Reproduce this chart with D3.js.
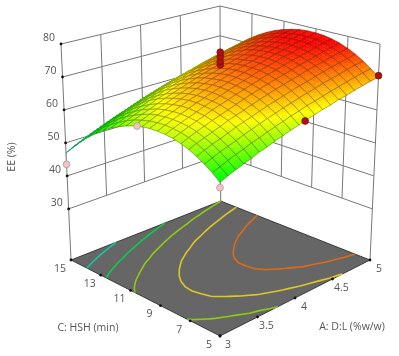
<!DOCTYPE html>
<html>
<head>
<meta charset="utf-8">
<script src="https://cdnjs.cloudflare.com/ajax/libs/d3/7.8.5/d3.min.js"></script>
<style>
  html, body { margin: 0; padding: 0; background: #fff; }
  svg { display: block; filter: blur(0.35px); }
  text { font-family: "Open Sans", "Noto Sans", sans-serif; font-size: 10.5px; fill: #555; }
</style>
</head>
<body>
<div id="chart"></div>
<script>
let aTicks = [3, 3.5, 4, 4.5, 5];
let cTicks = [5, 7, 9, 11, 13, 15];
let zTicks = [30, 40, 50, 60, 70, 80];
let contourLevels = [52.6, 58, 63, 68.2, 73.6];
let contourColors = ['#14c8a0', '#10c850', '#8ccc10', '#dcc820', '#e06a14'];

let colorStops = [38, 48, 57.5, 66.5, 77.5];
let colorNames = ['#0000ff', '#00ffff', '#00ff00', '#ffff00', '#ff0000'];

// one row per C value (5 to 15), one column per A value (3 to 5)
let surfaceEE = [
  [57.0,57.9,58.7,59.5,60.2,61.1,61.7,62.5,63.2,63.9,64.5,65.2,65.8,66.4,66.9,67.6,68.0,68.6,69.1,69.6,70.0],
  [58.8,59.6,60.5,61.3,62.0,62.9,63.5,64.3,65.0,65.7,66.4,67.0,67.7,68.2,68.8,69.4,69.9,70.5,71.0,71.5,71.9],
  [60.3,61.2,62.1,62.8,63.6,64.4,65.1,65.9,66.6,67.3,68.0,68.6,69.3,69.9,70.4,71.1,71.6,72.1,72.7,73.2,73.6],
  [61.6,62.5,63.4,64.1,64.9,65.8,66.5,67.2,68.0,68.7,69.3,70.0,70.7,71.3,71.8,72.5,73.0,73.6,74.1,74.6,75.1],
  [62.7,63.6,64.4,65.2,66.0,66.9,67.6,68.3,69.1,69.8,70.5,71.2,71.8,72.4,73.0,73.7,74.2,74.7,75.3,75.8,76.3],
  [63.5,64.4,65.3,66.1,66.9,67.7,68.4,69.2,70.0,70.7,71.4,72.1,72.7,73.3,73.9,74.6,75.1,75.7,76.3,76.8,77.3],
  [64.1,65.0,65.9,66.7,67.5,68.4,69.1,69.8,70.6,71.3,72.0,72.7,73.4,74.0,74.6,75.3,75.8,76.4,77.0,77.5,78.0],
  [64.4,65.3,66.2,67.0,67.8,68.7,69.4,70.2,71.0,71.7,72.4,73.1,73.9,74.5,75.1,75.8,76.3,76.9,77.5,78.0,78.5],
  [64.5,65.4,66.3,67.2,68.0,68.9,69.6,70.4,71.2,71.9,72.6,73.3,74.0,74.6,75.3,76.0,76.5,77.1,77.7,78.2,78.7],
  [64.4,65.3,66.2,67.0,67.9,68.8,69.5,70.3,71.1,71.8,72.6,73.3,74.0,74.6,75.2,75.9,76.5,77.1,77.7,78.2,78.7],
  [64.0,64.9,65.9,66.7,67.5,68.4,69.2,70.0,70.8,71.5,72.3,73.0,73.7,74.3,75.0,75.7,76.2,76.8,77.5,78.0,78.5],
  [63.4,64.3,65.3,66.1,66.9,67.8,68.6,69.4,70.2,71.0,71.7,72.4,73.2,73.8,74.4,75.2,75.7,76.3,77.0,77.5,78.0],
  [62.5,63.5,64.4,65.2,66.1,67.0,67.8,68.6,69.4,70.2,70.9,71.7,72.4,73.0,73.7,74.4,75.0,75.6,76.2,76.8,77.3],
  [61.4,62.4,63.3,64.2,65.0,66.0,66.7,67.6,68.4,69.1,69.9,70.6,71.4,72.0,72.7,73.4,74.0,74.6,75.3,75.8,76.4],
  [60.1,61.0,62.0,62.8,63.7,64.7,65.4,66.3,67.1,67.9,68.6,69.4,70.1,70.8,71.5,72.2,72.8,73.4,74.1,74.6,75.2],
  [58.5,59.5,60.4,61.3,62.2,63.1,63.9,64.7,65.6,66.4,67.1,67.9,68.7,69.3,70.0,70.7,71.3,72.0,72.6,73.2,73.8],
  [56.7,57.7,58.6,59.5,60.4,61.3,62.1,63.0,63.8,64.6,65.4,66.2,66.9,67.6,68.3,69.0,69.6,70.3,70.9,71.5,72.1],
  [54.6,55.6,56.6,57.5,58.3,59.3,60.1,61.0,61.8,62.6,63.4,64.2,65.0,65.6,66.3,67.1,67.7,68.3,69.0,69.6,70.2],
  [52.3,53.3,54.3,55.2,56.1,57.0,57.8,58.7,59.6,60.4,61.2,62.0,62.7,63.4,64.1,64.9,65.5,66.2,66.9,67.4,68.0],
  [49.8,50.8,51.8,52.7,53.6,54.5,55.3,56.2,57.1,57.9,58.7,59.5,60.3,61.0,61.7,62.5,63.1,63.8,64.4,65.0,65.6],
  [47.0,48.0,49.0,49.9,50.8,51.8,52.6,53.5,54.4,55.2,56.0,56.8,57.6,58.3,59.0,59.8,60.4,61.1,61.8,62.4,63.0]
];

// design points: A, C, EE
let pointA = [3, 3, 3, 4.08, 5, 4, 4, 4, 4];
let pointC = [15, 10.3, 5, 5, 5, 10, 10, 10, 10];
let pointEE = [43.5, 63.7, 55.5, 65, 70.4, 75, 76, 77.5, 78.8];
let pointAbove = [false, false, false, true, true, true, true, true, true];

let width = 399, height = 356;
let zFloor = 14.5, zTop = 80;

// box corners on screen: front, right, back, left
let floorCorners = [[220, 336], [370, 260], [220.7, 201], [71, 260]];
let topCorners = [[220, 99], [380, 44], [220, 6], [61, 44]];

let aScale = d3.scaleLinear().domain([3, 5]).range([0, 1]);
let cScale = d3.scaleLinear().domain([5, 15]).range([0, 1]);
let zScale = d3.scaleLinear().domain([zFloor, zTop]).range([0, 1]);
let colorScale = d3.scaleLinear().domain(colorStops).range(colorNames).clamp(true);

function quad(corners, u, v) {
  return [0, 1].map(k => corners[0][k] * (1 - u) * (1 - v) + corners[1][k] * u * (1 - v)
    + corners[2][k] * u * v + corners[3][k] * (1 - u) * v);
}

function project(A, C, Z) {
  let u = aScale(A), v = cScale(C), w = zScale(Z);
  let lo = quad(floorCorners, u, v), hi = quad(topCorners, u, v);
  return [lo[0] + (hi[0] - lo[0]) * w, lo[1] + (hi[1] - lo[1]) * w];
}

let $svg = d3.select('#chart').append('svg')
  .attr('width', width)
  .attr('height', height);

let line = d3.line();
let gridColor = '#777';

function drawLine($g, a, b, color, w) {
  $g.append('path')
    .attr('d', line([a, b]))
    .attr('fill', 'none')
    .attr('stroke', color)
    .attr('stroke-width', w);
}

// walls
let $walls = $svg.append('g');
zTicks.forEach(z => {
  drawLine($walls, project(3, 15, z), project(5, 15, z), gridColor, 1);
  drawLine($walls, project(5, 15, z), project(5, 5, z), gridColor, 1);
});
aTicks.slice(1, -1).forEach(a => drawLine($walls, project(a, 15, 30), project(a, 15, 80), gridColor, 1));
cTicks.slice(1, -1).forEach(c => drawLine($walls, project(5, c, 30), project(5, c, 80), gridColor, 1));
drawLine($walls, project(3, 15, zFloor), project(3, 15, 80), gridColor, 1);
drawLine($walls, project(5, 15, zFloor), project(5, 15, 80), gridColor, 1);
drawLine($walls, project(5, 5, zFloor), project(5, 5, 80), gridColor, 1);

// floor
let floorPts = [[3, 5], [5, 5], [5, 15], [3, 15]].map(d => project(d[0], d[1], zFloor));
$svg.append('path')
  .attr('d', line(floorPts) + 'Z')
  .attr('fill', '#666')
  .attr('stroke', '#222')
  .attr('stroke-width', 0.8);

// contours on the floor
let nRows = surfaceEE.length, nCols = surfaceEE[0].length;
let colA = d3.scaleLinear().domain([0.5, nCols - 0.5]).range([3, 5]);
let rowC = d3.scaleLinear().domain([0.5, nRows - 0.5]).range([5, 15]);
let contourData = d3.contours().size([nCols, nRows]).thresholds(contourLevels)(surfaceEE.flat());

function insideGrid(pt) {
  return pt[0] >= 0.5 - 1e-6 && pt[0] <= nCols - 0.5 + 1e-6 && pt[1] >= 0.5 - 1e-6 && pt[1] <= nRows - 0.5 + 1e-6;
}

let $contours = $svg.append('g').attr('fill', 'none').attr('stroke-width', 1.6);
contourData.forEach((contour, k) => {
  contour.coordinates.forEach(poly => {
    poly.forEach(ring => {
      let pieces = [];
      let current = [];
      ring.forEach(pt => {
        if (insideGrid(pt)) {
          current.push(project(colA(pt[0]), rowC(pt[1]), zFloor));
        } else {
          if (current.length > 1) pieces.push(current);
          current = [];
        }
      });
      if (current.length > 1) pieces.push(current);
      // tiny corner nicks are not drawn
      pieces.filter(p => p.length > 4).forEach(p => {
        $contours.append('path').attr('d', line(p)).attr('stroke', contourColors[k]);
      });
    });
  });
});

// floor and z tick marks and labels
let $ticks = $svg.append('g');
function tickDot(pt) {
  $ticks.append('circle').attr('cx', pt[0]).attr('cy', pt[1]).attr('r', 1.4).attr('fill', '#111');
}
function tickLabel(pt, dx, dy, label) {
  $ticks.append('text')
    .attr('x', pt[0] + dx)
    .attr('y', pt[1] + dy)
    .attr('text-anchor', 'middle')
    .attr('dominant-baseline', 'middle')
    .text(label);
}
zTicks.forEach(z => {
  let pt = project(3, 15, z);
  tickDot(pt);
  tickLabel(pt, -12, -6, z);
});
cTicks.forEach(c => {
  let pt = project(3, c, zFloor);
  tickDot(pt);
  tickLabel(pt, -11, 9, c);
});
aTicks.forEach(a => {
  let pt = project(a, 5, zFloor);
  tickDot(pt);
  tickLabel(pt, a === 3 ? 8 : 9, 9, a);
});

$svg.append('text').attr('x', 88).attr('y', 328).attr('text-anchor', 'middle')
  .attr('dominant-baseline', 'middle').text('C: HSH (min)');
$svg.append('text').attr('x', 352).attr('y', 327).attr('text-anchor', 'middle')
  .attr('dominant-baseline', 'middle').text('A: D:L (%w/w)');
$svg.append('text').attr('text-anchor', 'middle').attr('dominant-baseline', 'middle')
  .attr('transform', 'translate(12,157) rotate(-90)').text('EE (%)');

// surface, painted back to front with each cell split so the colour runs smoothly
let $surface = $svg.append('g');
let splits = 3;
let meshPath = (r, c) => {
  let corners = [[r, c], [r, c + 1], [r + 1, c + 1], [r + 1, c]];
  return line(corners.map(d => project(colA(d[1] + 0.5), rowC(d[0] + 0.5), surfaceEE[d[0]][d[1]]))) + 'Z';
};
for (let r = nRows - 2; r >= 0; r--) {
  for (let c = nCols - 2; c >= 0; c--) {
    let z00 = surfaceEE[r][c], z01 = surfaceEE[r][c + 1], z10 = surfaceEE[r + 1][c], z11 = surfaceEE[r + 1][c + 1];
    let at = (fr, fc) => z00 * (1 - fr) * (1 - fc) + z01 * (1 - fr) * fc + z10 * fr * (1 - fc) + z11 * fr * fc;
    for (let i = splits - 1; i >= 0; i--) {
      for (let j = splits - 1; j >= 0; j--) {
        let pts = [[i, j], [i, j + 1], [i + 1, j + 1], [i + 1, j]].map(d => {
          let fr = d[0] / splits, fc = d[1] / splits;
          return project(colA(c + fc + 0.5), rowC(r + fr + 0.5), at(fr, fc));
        });
        let fill = colorScale(at((i + 0.5) / splits, (j + 0.5) / splits));
        $surface.append('path')
          .attr('d', line(pts) + 'Z')
          .attr('fill', fill)
          .attr('stroke', fill)
          .attr('stroke-width', 0.4);
      }
    }
    $surface.append('path')
      .attr('d', meshPath(r, c))
      .attr('fill', 'none')
      .attr('stroke', 'rgba(50,50,0,0.5)')
      .attr('stroke-width', 0.7);
  }
}

// design points, with a stem up to the surface for those below it
let $points = $svg.append('g');
pointEE.forEach((ee, i) => {
  let A = pointA[i], C = pointC[i];
  let row = Math.round((C - 5) / 0.5), col = Math.round((A - 3) / 0.1);
  let above = pointAbove[i];
  let pt = project(A, C, ee);
  if (!above) {
    $points.append('path').attr('d', line([pt, project(A, C, surfaceEE[row][col])]))
      .attr('stroke', '#999').attr('stroke-width', 1);
  }
  $points.append('circle')
    .attr('cx', pt[0]).attr('cy', pt[1]).attr('r', 3.4)
    .attr('fill', above ? '#b01212' : '#f8c0c0')
    .attr('stroke', above ? '#7a1010' : '#999')
    .attr('stroke-width', 0.7);
});
</script>
</body>
</html>
